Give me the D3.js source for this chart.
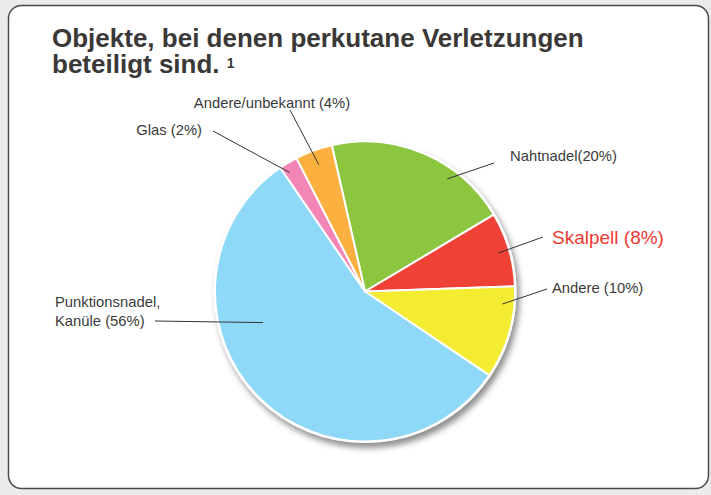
<!DOCTYPE html>
<html>
<head>
<meta charset="utf-8">
<script src="https://cdn.jsdelivr.net/npm/d3@7"></script>
<style>
  body { margin: 0; background: #ebebeb; }
  text { font-family: "Liberation Sans", Arial, sans-serif; }
</style>
</head>
<body>
<div id="chart"></div>
<script>
// data, clockwise from the top
var categories = ["Nahtnadel", "Skalpell", "Andere", "Punktionsnadel, Kanüle", "Glas", "Andere/unbekannt"];
var values = [20, 8, 10, 56, 2, 4];
var labelLines = [["Nahtnadel(20%)"], ["Skalpell (8%)"], ["Andere (10%)"],
    ["Punktionsnadel,", "Kanüle (56%)"], ["Glas (2%)"], ["Andere/unbekannt (4%)"]];
var colors = ["#8cc63f", "#ef4136", "#f3ec30", "#8ed8f8", "#f287b7", "#fbb040"];

// where the leader lines and texts sit (t = fraction across slice, r = fraction of radius)
var labelLayout = [
    { t: 0.68, r: 0.93, lx: 494, ly: 163, tx: 510, ty: 161, anchor: "start" },
    { t: 0.51, r: 0.925, lx: 543, ly: 237, tx: 552, ty: 244, anchor: "start", size: 19, color: "#ee3a32" },
    { t: 0.2, r: 0.92, lx: 547, ly: 289, tx: 552, ty: 293, anchor: "start" },
    { t: 0.64, r: 0.71, lx: 155, ly: 321, tx: 55, ty: 307, anchor: "start" },
    { t: 0.28, r: 0.94, lx: 213, ly: 131, tx: 202, ty: 135, anchor: "end" },
    { t: 0.5, r: 0.9, lx: 290, ly: 110, tx: 272, ty: 108, anchor: "middle" }
];

var width = 711, height = 495;
var cx = 365, cy = 291.5, radius = 150;

var svg = d3.select("#chart")
    .append("svg")
    .attr("width", width)
    .attr("height", height);

var defs = svg.append("defs");
defs.append("filter")
    .attr("id", "shadow")
    .attr("x", "-20%").attr("y", "-20%")
    .attr("width", "140%").attr("height", "140%")
    .append("feDropShadow")
    .attr("dx", 3).attr("dy", 5)
    .attr("stdDeviation", 3)
    .attr("flood-color", "#000")
    .attr("flood-opacity", 0.45);

// card
svg.append("rect")
    .attr("x", 8.5).attr("y", 5.5)
    .attr("width", 700).attr("height", 483)
    .attr("rx", 13).attr("ry", 13)
    .attr("fill", "#fff")
    .attr("stroke", "#4a4a4a")
    .attr("stroke-width", 1.5);

// title
svg.append("text")
    .attr("x", 52).attr("y", 46.5)
    .attr("font-size", 26)
    .attr("font-weight", "bold")
    .attr("fill", "#3b3838")
    .text("Objekte, bei denen perkutane Verletzungen");
var t2 = svg.append("text")
    .attr("x", 52).attr("y", 72.5)
    .attr("font-size", 26)
    .attr("font-weight", "bold")
    .attr("fill", "#3b3838");
t2.append("tspan").text("beteiligt sind. ");
t2.append("tspan").attr("font-size", 14).attr("dy", -5).text("1");

// pie
var start = -12.8 * Math.PI / 180;
var pie = d3.pie().sort(null).value(function (d) { return d; })
    .startAngle(start).endAngle(start + 2 * Math.PI);
var arcs = pie(values);
var arc = d3.arc().innerRadius(0).outerRadius(radius);

var g = svg.append("g").attr("transform", "translate(" + cx + "," + cy + ")");

g.append("circle")
    .attr("r", radius + 1.5)
    .attr("fill", "#fff")
    .attr("filter", "url(#shadow)");

g.selectAll("path.slice")
    .data(arcs)
    .enter()
    .append("path")
    .attr("class", "slice")
    .attr("d", arc)
    .attr("fill", function (d, i) { return colors[i]; })
    .attr("stroke", "#fff")
    .attr("stroke-width", 2)
    .attr("stroke-linejoin", "round");

// leader lines
svg.selectAll("line.leader")
    .data(arcs)
    .enter()
    .append("line")
    .attr("class", "leader")
    .attr("x1", function (d, i) { return labelLayout[i].lx; })
    .attr("y1", function (d, i) { return labelLayout[i].ly; })
    .attr("x2", function (d, i) {
        var L = labelLayout[i], a = d.startAngle + L.t * (d.endAngle - d.startAngle);
        return cx + L.r * radius * Math.sin(a);
    })
    .attr("y2", function (d, i) {
        var L = labelLayout[i], a = d.startAngle + L.t * (d.endAngle - d.startAngle);
        return cy - L.r * radius * Math.cos(a);
    })
    .attr("stroke", "#333")
    .attr("stroke-width", 1);

// labels
var lab = svg.selectAll("text.label")
    .data(labelLines)
    .enter()
    .append("text")
    .attr("class", "label")
    .attr("x", function (d, i) { return labelLayout[i].tx; })
    .attr("y", function (d, i) { return labelLayout[i].ty; })
    .attr("text-anchor", function (d, i) { return labelLayout[i].anchor; })
    .attr("font-size", function (d, i) { return labelLayout[i].size || 14.8; })
    .attr("fill", function (d, i) { return labelLayout[i].color || "#3a3a3a"; });

lab.each(function (d, i) {
    var el = d3.select(this);
    d.forEach(function (line, j) {
        el.append("tspan")
            .attr("x", labelLayout[i].tx)
            .attr("dy", j === 0 ? 0 : 18.5)
            .text(line);
    });
});
</script>
</body>
</html>
